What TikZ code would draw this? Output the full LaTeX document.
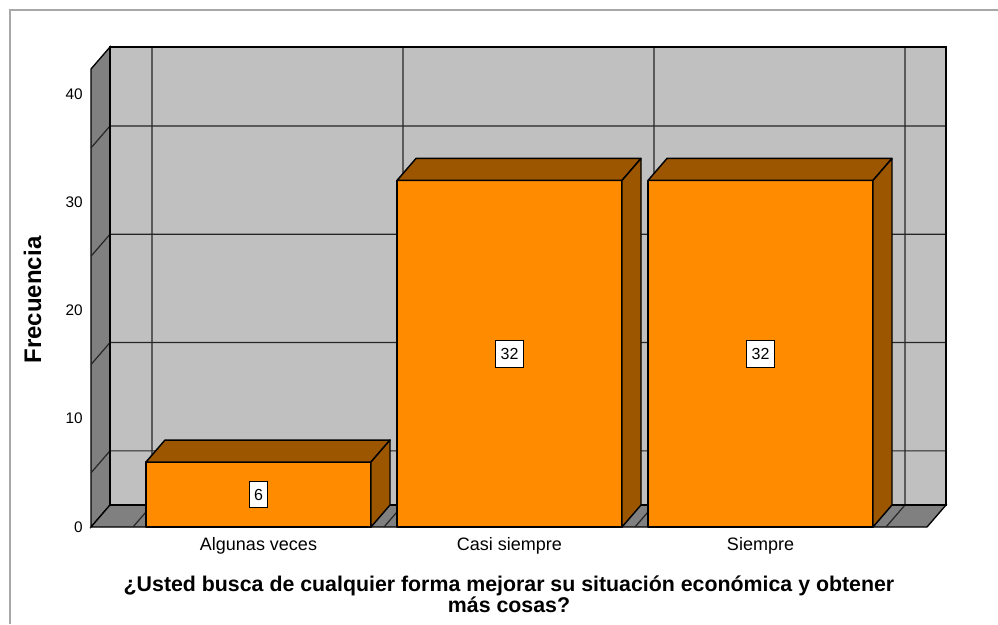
\documentclass[tikz,border=0pt]{standalone}
\usepackage{fontspec}
\setmainfont{Liberation Sans}
\usetikzlibrary{positioning, calc}
\definecolor{wallgray}{HTML}{C0C0C0}
\definecolor{sidegray}{HTML}{808080}
\definecolor{barorange}{HTML}{FF8C00}
\definecolor{barbrown}{HTML}{9C5600}
\definecolor{framegray}{HTML}{A8A8A8}
\tikzset{
  backwall/.style={fill=wallgray, draw=black, line width=1pt},
  sidewall/.style={fill=sidegray, draw=black, line width=1pt},
  gridline/.style={draw=black!85, line width=0.9pt},
  barfront/.style={fill=barorange, draw=black, line width=1.1pt, line join=round},
  barshade/.style={fill=barbrown, draw=black, line width=1.1pt, line join=round},
  valuebox/.style={fill=white, draw=black, line width=0.6pt, inner xsep=3.6pt, minimum height=20pt, font=\fontsize{12}{13}\selectfont},
  ticklabel/.style={inner sep=0pt, font=\fontsize{11.5}{12}\selectfont},
  catlabel/.style={inner sep=0pt, font=\fontsize{13.5}{14}\selectfont},
  axistitle/.style={inner sep=0pt, font=\bfseries\fontsize{16}{15}\selectfont}
}

\begin{document}
\begin{tikzpicture}[x=0.75pt, y=-0.75pt]
    \useasboundingbox (0,0) rectangle (998,624);

    % outer frame
    \draw [framegray, line width=0.9pt] (10,624) -- (10,10) -- (998,10);

    % walls and floor
    \coordinate (fl) at (91,527);
    \coordinate (bl) at (110,505);
    \coordinate (br) at (946,505);
    \coordinate (fr) at (927,527);
    \coordinate (tl) at (110,47);
    \coordinate (tr) at (946,47);
    \coordinate (ftl) at (91,69);
    \draw [backwall] (bl) rectangle (tr);
    \draw [sidewall] (fl) -- (ftl) -- (tl) -- (bl) -- cycle;
    \draw [sidewall] (fl) -- (bl) -- (br) -- (fr) -- cycle;

    % grid
    \foreach \v in {5,15,25,35} {
        \draw [gridline] (91,{527-10.83*\v}) -- (110,{505-10.83*\v}) -- (946,{505-10.83*\v});
    }
    \foreach \x in {152,403,654,905} {
        \draw [gridline] (\x,47) -- (\x,505) -- (\x-19,527);
    }
    \draw [line width=1pt] (bl) rectangle (tr);

    % y axis
    \foreach \v in {0,10,20,30,40} {
        \node [ticklabel, anchor=east] (tick\v) at (83,{527-10.83*\v}) {\v};
    }

    % bars
    \foreach \i/\v/\lab in {0/6/Algunas veces, 1/32/Casi siempre, 2/32/Siempre} {
        \pgfmathsetmacro{\xl}{146+251*\i}
        \pgfmathsetmacro{\yt}{527-10.83*\v}
        \draw [barfront] (\xl,527) rectangle (\xl+225,\yt);
        \draw [barshade] (\xl,\yt) -- (\xl+19,\yt-22) -- (\xl+244,\yt-22) -- (\xl+225,\yt) -- cycle;
        \draw [barshade] (\xl+225,527) -- (\xl+225,\yt) -- (\xl+244,\yt-22) -- (\xl+244,505) -- cycle;
        \node [valuebox] (val\i) at (\xl+112.5,{(527+\yt)/2}) {\v};
        \node [catlabel] (cat\i) at (\xl+112.5,546) {\lab};
    }

    % axis titles
    \node [axistitle, rotate=90, font=\bfseries\fontsize{18}{18}\selectfont] (ytitle) at (32.5,300) {Frecuencia};
    \node [axistitle, align=center] (xtitle) at (509,594) {¿Usted busca de cualquier forma mejorar su situación económica y obtener\\más cosas?};
\end{tikzpicture}
\end{document}
